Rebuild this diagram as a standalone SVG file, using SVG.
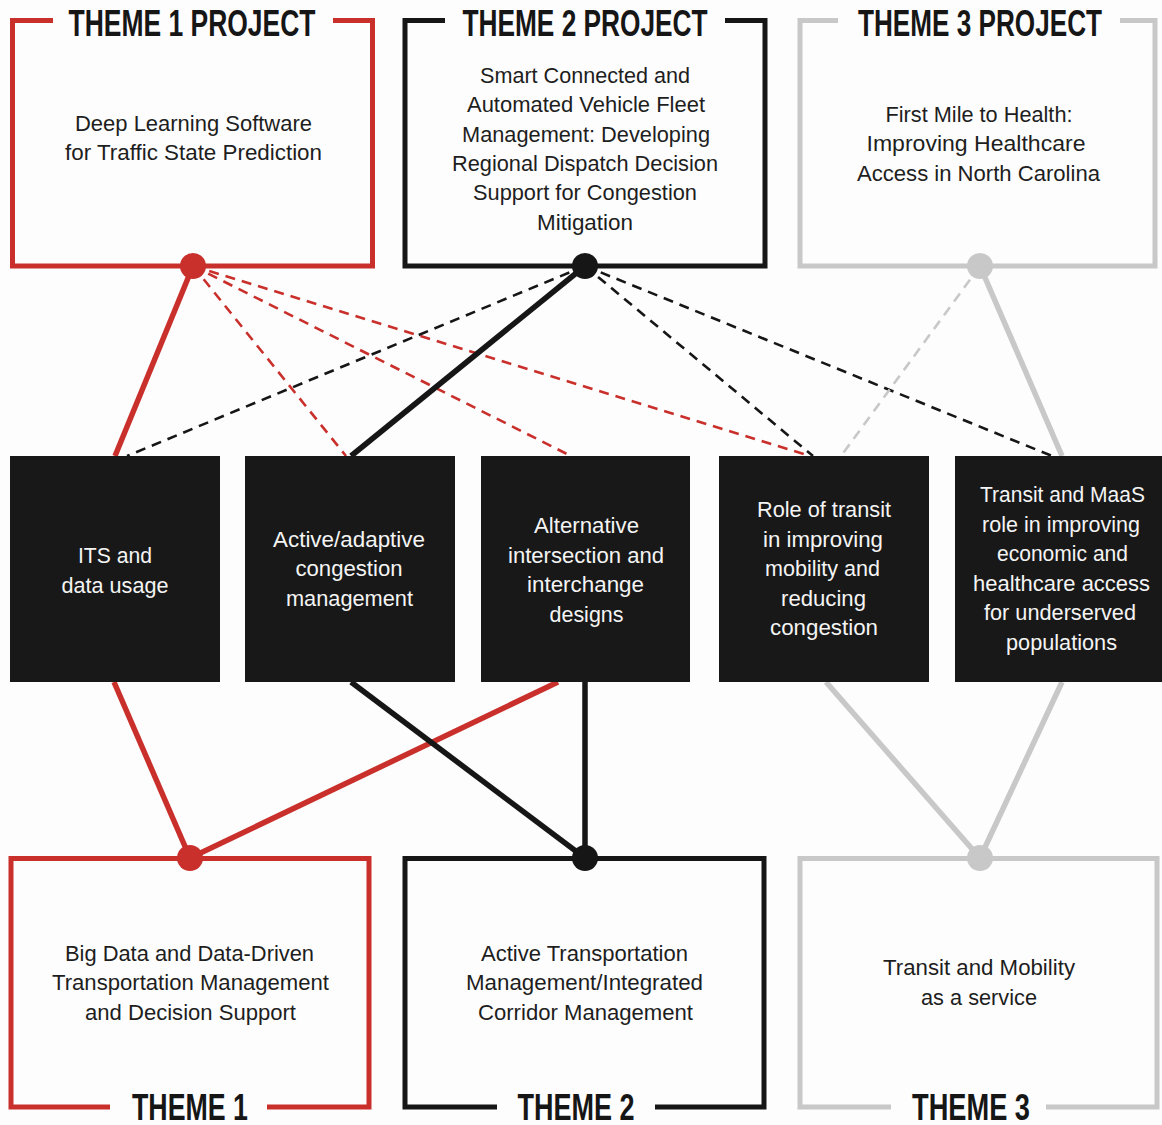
<svg xmlns="http://www.w3.org/2000/svg" width="1162" height="1125" viewBox="0 0 1162 1125">
<style>
  .bg { fill: #fdfdfd; }
  .frame { fill: none; stroke-width: 5; stroke-linejoin: miter; }
  .red { stroke: #c9302c; }
  .blk { stroke: #161616; }
  .gry { stroke: #c8c8c8; }
  .dotR { fill: #c9302c; }
  .dotB { fill: #161616; }
  .dotG { fill: #c8c8c8; }
  .solid { fill: none; stroke-width: 5.5; }
  .dash { fill: none; stroke-width: 2.6; stroke-dasharray: 10 7; }
  .title { font-family: "Liberation Sans", Arial, sans-serif; font-weight: bold; font-size: 36px; fill: #161616; text-anchor: middle; }
  .body { font-family: "Liberation Sans", Arial, sans-serif; font-size: 21.5px; fill: #1e1e1e; text-anchor: middle; }
  .mbox { fill: #181818; }
  .mtext { font-family: "Liberation Sans", Arial, sans-serif; font-size: 22px; fill: #f4f4f4; text-anchor: middle; }
</style>
<rect class="bg" x="0" y="0" width="1162" height="1125"/>

<g id="connectors">
  <!-- Theme 1 project -->
  <line class="solid red" x1="193" y1="266" x2="115" y2="456"/>
  <line class="dash red" x1="193" y1="266" x2="346" y2="456"/>
  <line class="dash red" x1="193" y1="266" x2="571" y2="456"/>
  <line class="dash red" x1="193" y1="266" x2="810" y2="456"/>
  <!-- Theme 2 project -->
  <line class="solid blk" x1="585" y1="266" x2="351" y2="456"/>
  <line class="dash blk" x1="585" y1="266" x2="127" y2="456"/>
  <line class="dash blk" x1="585" y1="266" x2="813" y2="456"/>
  <line class="dash blk" x1="585" y1="266" x2="1052" y2="456"/>
  <!-- Theme 3 project -->
  <line class="solid gry" x1="980" y1="266" x2="1062" y2="456"/>
  <line class="dash gry" x1="980" y1="266" x2="841" y2="456"/>
  <!-- Theme 1 -->
  <line class="solid red" x1="190" y1="858" x2="114" y2="682"/>
  <line class="solid red" x1="190" y1="858" x2="558" y2="682"/>
  <!-- Theme 2 -->
  <line class="solid blk" x1="585" y1="858" x2="351" y2="682"/>
  <line class="solid blk" x1="585" y1="858" x2="585" y2="682"/>
  <!-- Theme 3 -->
  <line class="solid gry" x1="980" y1="858" x2="826" y2="682"/>
  <line class="solid gry" x1="980" y1="858" x2="1062" y2="682"/>
</g>

<g id="theme1-project">
  <path class="frame red" d="M53,20.5 H12.5 V266 H372.5 V20.5 H333"/>
  <text class="title" x="192" y="36" textLength="247" lengthAdjust="spacingAndGlyphs">THEME 1 PROJECT</text>
  <text class="body" x="193.5" y="131" textLength="237" lengthAdjust="spacingAndGlyphs">Deep Learning Software</text>
  <text class="body" x="193.5" y="160" textLength="257" lengthAdjust="spacingAndGlyphs">for Traffic State Prediction</text>
  <circle class="dotR" cx="193" cy="266" r="13"/>
</g>

<g id="theme2-project">
  <path class="frame blk" d="M445,20.5 H405 V266 H765 V20.5 H725"/>
  <text class="title" x="585" y="36" textLength="245" lengthAdjust="spacingAndGlyphs">THEME 2 PROJECT</text>
  <text class="body" x="585" y="83" textLength="210" lengthAdjust="spacingAndGlyphs">Smart Connected and</text>
  <text class="body" x="586" y="112" textLength="238" lengthAdjust="spacingAndGlyphs">Automated Vehicle Fleet</text>
  <text class="body" x="586" y="142" textLength="248" lengthAdjust="spacingAndGlyphs">Management: Developing</text>
  <text class="body" x="585" y="171" textLength="266" lengthAdjust="spacingAndGlyphs">Regional Dispatch Decision</text>
  <text class="body" x="585" y="200" textLength="224" lengthAdjust="spacingAndGlyphs">Support for Congestion</text>
  <text class="body" x="585" y="230" textLength="96" lengthAdjust="spacingAndGlyphs">Mitigation</text>
  <circle class="dotB" cx="585" cy="266" r="13"/>
</g>

<g id="theme3-project">
  <path class="frame gry" d="M838,20.5 H800 V266 H1155 V20.5 H1120"/>
  <text class="title" x="980" y="36" textLength="244" lengthAdjust="spacingAndGlyphs">THEME 3 PROJECT</text>
  <text class="body" x="979" y="122" textLength="187" lengthAdjust="spacingAndGlyphs">First Mile to Health:</text>
  <text class="body" x="976" y="151" textLength="219" lengthAdjust="spacingAndGlyphs">Improving Healthcare</text>
  <text class="body" x="978.5" y="181" textLength="243" lengthAdjust="spacingAndGlyphs">Access in North Carolina</text>
  <circle class="dotG" cx="980" cy="266" r="13"/>
</g>

<g id="topic-its">
  <rect class="mbox" x="10" y="456" width="210" height="226"/>
  <text class="mtext" x="115" y="563" textLength="74" lengthAdjust="spacingAndGlyphs">ITS and</text>
  <text class="mtext" x="115" y="593" textLength="107" lengthAdjust="spacingAndGlyphs">data usage</text>
</g>

<g id="topic-active">
  <rect class="mbox" x="245" y="456" width="210" height="226"/>
  <text class="mtext" x="349" y="547" textLength="152" lengthAdjust="spacingAndGlyphs">Active/adaptive</text>
  <text class="mtext" x="349" y="576" textLength="107" lengthAdjust="spacingAndGlyphs">congestion</text>
  <text class="mtext" x="349.5" y="606" textLength="127" lengthAdjust="spacingAndGlyphs">management</text>
</g>

<g id="topic-alternative">
  <rect class="mbox" x="481" y="456" width="209" height="226"/>
  <text class="mtext" x="586.5" y="533" textLength="105" lengthAdjust="spacingAndGlyphs">Alternative</text>
  <text class="mtext" x="586" y="563" textLength="156" lengthAdjust="spacingAndGlyphs">intersection and</text>
  <text class="mtext" x="585.5" y="592" textLength="117" lengthAdjust="spacingAndGlyphs">interchange</text>
  <text class="mtext" x="586.5" y="622" textLength="74" lengthAdjust="spacingAndGlyphs">designs</text>
</g>

<g id="topic-transit">
  <rect class="mbox" x="719" y="456" width="210" height="226"/>
  <text class="mtext" x="824" y="517" textLength="134" lengthAdjust="spacingAndGlyphs">Role of transit</text>
  <text class="mtext" x="823" y="547" textLength="120" lengthAdjust="spacingAndGlyphs">in improving</text>
  <text class="mtext" x="822.5" y="576" textLength="115" lengthAdjust="spacingAndGlyphs">mobility and</text>
  <text class="mtext" x="823.5" y="606" textLength="85" lengthAdjust="spacingAndGlyphs">reducing</text>
  <text class="mtext" x="824" y="635" textLength="108" lengthAdjust="spacingAndGlyphs">congestion</text>
</g>

<g id="topic-maas">
  <rect class="mbox" x="955" y="456" width="208" height="226"/>
  <text class="mtext" x="1062.5" y="502" textLength="165" lengthAdjust="spacingAndGlyphs">Transit and MaaS</text>
  <text class="mtext" x="1061" y="532" textLength="158" lengthAdjust="spacingAndGlyphs">role in improving</text>
  <text class="mtext" x="1062.5" y="561" textLength="131" lengthAdjust="spacingAndGlyphs">economic and</text>
  <text class="mtext" x="1061.5" y="591" textLength="177" lengthAdjust="spacingAndGlyphs">healthcare access</text>
  <text class="mtext" x="1060" y="620" textLength="152" lengthAdjust="spacingAndGlyphs">for underserved</text>
  <text class="mtext" x="1061.5" y="650" textLength="111" lengthAdjust="spacingAndGlyphs">populations</text>
</g>

<g id="theme1">
  <path class="frame red" d="M110,1107 H11 V858.5 H369 V1107 H267"/>
  <text class="title" x="190" y="1120" textLength="116" lengthAdjust="spacingAndGlyphs">THEME 1</text>
  <text class="body" x="189.5" y="961" textLength="249" lengthAdjust="spacingAndGlyphs">Big Data and Data-Driven</text>
  <text class="body" x="190.5" y="990" textLength="277" lengthAdjust="spacingAndGlyphs">Transportation Management</text>
  <text class="body" x="190.5" y="1020" textLength="211" lengthAdjust="spacingAndGlyphs">and Decision Support</text>
  <circle class="dotR" cx="190" cy="858" r="13"/>
</g>

<g id="theme2">
  <path class="frame blk" d="M497,1107 H405 V858.5 H764 V1107 H655"/>
  <text class="title" x="576" y="1120" textLength="117" lengthAdjust="spacingAndGlyphs">THEME 2</text>
  <text class="body" x="584.5" y="961" textLength="207" lengthAdjust="spacingAndGlyphs">Active Transportation</text>
  <text class="body" x="584.5" y="990" textLength="237" lengthAdjust="spacingAndGlyphs">Management/Integrated</text>
  <text class="body" x="585.5" y="1020" textLength="215" lengthAdjust="spacingAndGlyphs">Corridor Management</text>
  <circle class="dotB" cx="585" cy="858" r="13"/>
</g>

<g id="theme3">
  <path class="frame gry" d="M891,1107 H800 V858.5 H1157 V1107 H1046"/>
  <text class="title" x="971" y="1120" textLength="118" lengthAdjust="spacingAndGlyphs">THEME 3</text>
  <text class="body" x="979" y="975" textLength="192" lengthAdjust="spacingAndGlyphs">Transit and Mobility</text>
  <text class="body" x="979" y="1005" textLength="116" lengthAdjust="spacingAndGlyphs">as a service</text>
  <circle class="dotG" cx="980" cy="858" r="13"/>
</g>
</svg>
